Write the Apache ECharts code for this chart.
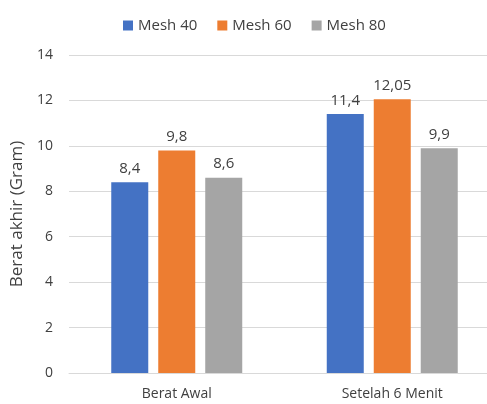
<!DOCTYPE html>
<html>
<head>
<meta charset="utf-8">
<script src="https://cdn.jsdelivr.net/npm/echarts@6/dist/echarts.min.js"></script>
<style>
  html, body { margin: 0; padding: 0; background: #fff; overflow: hidden; }
  /* canvas is wider than the window so the second group sits near the right edge */
  #chart { width: 500px; height: 404px; }
</style>
</head>
<body>
<div id="chart"></div>
<script>
// Weight measurements per sieve mesh size
const categories = ['Berat Awal', 'Setelah 6 Menit'];
const seriesNames = ['Mesh 40', 'Mesh 60', 'Mesh 80'];
const mesh40 = [8.4, 11.4];
const mesh60 = [9.8, 12.05];
const mesh80 = [8.6, 9.9];
const yTicks = [0, 2, 4, 6, 8, 10, 12, 14];

const colors = ['#4472C4', '#ED7D31', '#A5A5A5'];
const font = '"Open Sans", "Noto Sans", sans-serif';
const textColor = '#404040';

// Decimal comma formatting
const fmt = v => String(v).replace('.', ',');

const values = [mesh40, mesh60, mesh80];
const chart = echarts.init(document.getElementById('chart'));
chart.setOption({
  animation: false,
  color: colors,
  textStyle: { fontFamily: font },
  legend: {
    top: 13,
    left: 118,
    itemWidth: 10,
    itemHeight: 10,
    itemGap: 20,
    icon: 'rect',
    textStyle: { fontSize: 15, color: textColor, fontFamily: font }
  },
  grid: { left: 69, right: 0, top: 55, bottom: 31, containLabel: false },
  xAxis: {
    type: 'category',
    data: categories,
    axisLine: { lineStyle: { color: '#D9D9D9', width: 1 } },
    axisTick: { show: false },
    axisLabel: { color: textColor, fontSize: 14, margin: 14, fontFamily: font }
  },
  yAxis: {
    type: 'value',
    min: yTicks[0],
    max: yTicks[yTicks.length - 1],
    interval: 2,
    name: 'Berat akhir (Gram)',
    nameLocation: 'middle',
    nameGap: 35,
    nameTextStyle: { color: textColor, fontSize: 17, fontFamily: font },
    axisLine: { show: false },
    axisTick: { show: false },
    axisLabel: { color: textColor, fontSize: 14, margin: 16, fontFamily: font },
    splitLine: { lineStyle: { color: '#D9D9D9', width: 1 } }
  },
  series: seriesNames.map((name, i) => ({
    name,
    type: 'bar',
    data: values[i],
    barWidth: 37,
    barGap: '27%',
    label: {
      show: true,
      position: 'top',
      distance: 6,
      color: textColor,
      fontSize: 15,
      fontFamily: font,
      formatter: p => fmt(p.value)
    }
  }))
});
</script>
</body>
</html>
